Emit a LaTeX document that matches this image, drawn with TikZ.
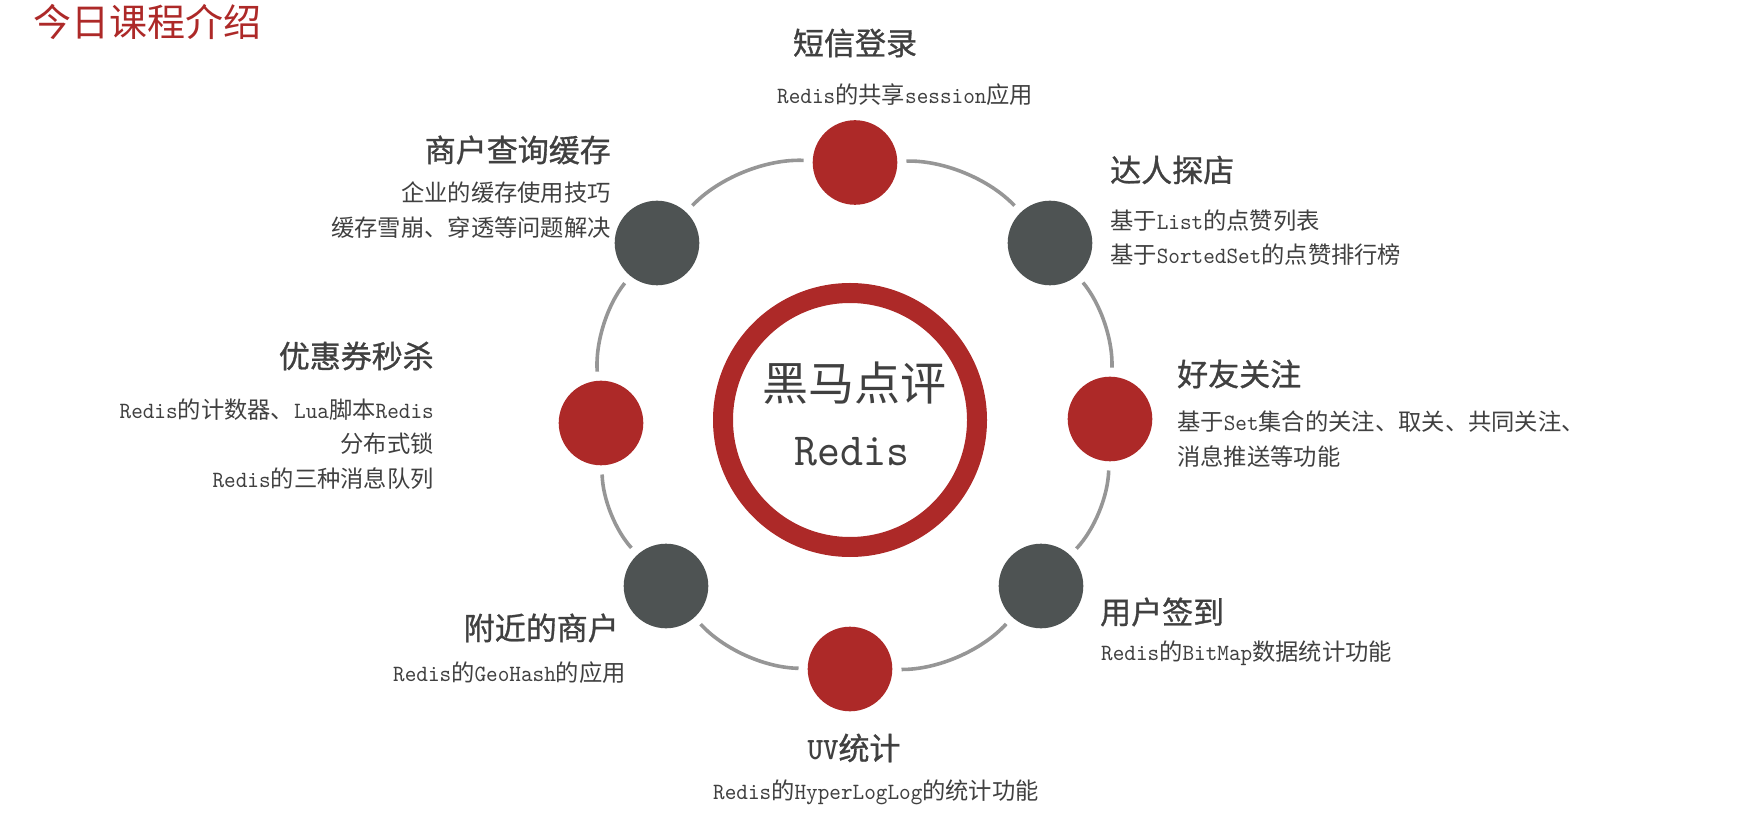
\documentclass[tikz,border=0pt]{standalone}
\usepackage{fontspec}
\setmainfont{Noto Sans CJK SC}
\newfontfamily\enfont{lmmono10-regular.otf}[FakeStretch=0.95,BoldFont=lmmonolt10-bold.otf]
\newfontfamily\headfont{Noto Sans CJK SC}[FakeBold=1]
\newcommand\entxt[1]{{\enfont #1}}
\definecolor{rdred}{RGB}{173,41,40}
\definecolor{rdgray}{RGB}{78,83,83}
\definecolor{rdline}{RGB}{150,150,150}
\definecolor{rdtext}{RGB}{64,64,64}

\begin{document}
\begin{tikzpicture}[x=1pt,y=1pt,
  topic/.style={circle,inner sep=0pt,minimum size=84.6pt},
  hub/.style={circle,draw=rdred,line width=20pt,minimum size=254pt,inner sep=0pt},
  orbit/.style={rdline,line width=3.6pt,shorten <=9pt,shorten >=9pt,looseness=0.88},
  topichead/.style={font=\fontsize{31}{36}\selectfont\headfont,text=rdtext,inner sep=0pt},
  topicdesc/.style={font=\fontsize{23.3}{34.5}\selectfont,text=rdtext,inner sep=0pt}
]
  \useasboundingbox (0,0) rectangle (1738,815);
  \node[anchor=west,inner sep=0pt,text=rdred,font=\fontsize{38}{44}\selectfont] (title) at (33,793) {今日课程介绍};

  % centre ring
  \node[hub] (hub) at (850,395) {};
  \node[font=\fontsize{46}{50}\selectfont,text=rdtext] (hubcn) at (854,432) {黑马点评};
  \node[font=\fontsize{46}{50}\selectfont\enfont,text=rdtext] (huben) at (852,363) {Redis};

  % topics round the ring
  \foreach \name/\x/\y/\col in {sms/855/652.5/rdred, tour/1050/572/rdgray,
      friend/1110/396/rdred, sign/1041/229/rdgray, uv/850/146/rdred,
      geo/666/229/rdgray, coupon/601/392/rdred, shop/657/572/rdgray}
    \node[topic,fill=\col] (\name) at (\x,\y) {};
  \foreach \a/\b/\bend in {sms/tour/24, tour/friend/21, friend/sign/21, sign/uv/24,
      uv/geo/23.5, geo/coupon/20.5, coupon/shop/21.5, shop/sms/24.5}
    \draw[orbit] (\a) to[bend left=\bend] (\b);

  \node[topichead] (smshead) at (855,772) {短信登录};
  \node[topicdesc,anchor=west] (smsdesc) at (777,720) {\entxt{Redis}的共享\entxt{session}应用};

  \node[topichead,anchor=east] (shophead) at (611,665) {商户查询缓存};
  \node[topicdesc,anchor=east,align=right] (shopdesc) at (611,605) {企业的缓存使用技巧\\缓存雪崩、穿透等问题解决};

  \node[topichead,anchor=west] (tourhead) at (1110,645) {达人探店};
  \node[topicdesc,anchor=west,align=left] (tourdesc) at (1110,577.5) {基于\entxt{List}的点赞列表\\基于\entxt{SortedSet}的点赞排行榜};

  \node[topichead,anchor=east] (couponhead) at (434,459) {优惠券秒杀};
  \node[topicdesc,anchor=east,align=right] (coupondesc) at (434,371) {\entxt{Redis}的计数器、\entxt{Lua}脚本\entxt{Redis}\\分布式锁\\\entxt{Redis}的三种消息队列};

  \node[topichead,anchor=west] (friendhead) at (1177,441) {好友关注};
  \node[topicdesc,anchor=west,align=left] (frienddesc) at (1177,376) {基于\entxt{Set}集合的关注、取关、共同关注、\\消息推送等功能};

  \node[topichead,anchor=west] (signhead) at (1100,203) {用户签到};
  \node[topicdesc,anchor=west] (signdesc) at (1101,162) {\entxt{Redis}的\entxt{BitMap}数据统计功能};

  \node[topichead,anchor=east] (geohead) at (619,187) {附近的商户};
  \node[topicdesc,anchor=east] (geodesc) at (626,142) {\entxt{Redis}的\entxt{GeoHash}的应用};

  \node[topichead] (uvhead) at (854,67) {{\enfont\bfseries UV}统计};
  \node[topicdesc] (uvdesc) at (876,23) {\entxt{Redis}的\entxt{HyperLogLog}的统计功能};
\end{tikzpicture}
\end{document}
